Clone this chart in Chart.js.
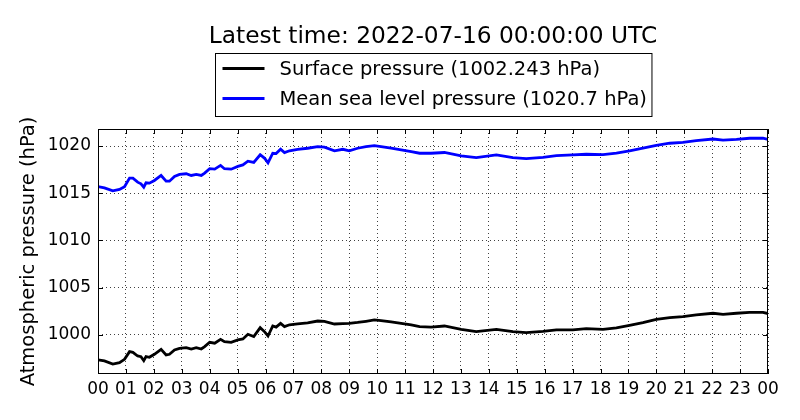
<!DOCTYPE html>
<html>
<head>
<meta charset="utf-8">
<title>Atmospheric pressure</title>
<script src="https://cdn.jsdelivr.net/npm/chart.js@4/dist/chart.umd.min.js"></script>
<style>
    html, body { margin: 0; padding: 0; background: #ffffff; }
    #wrap { width: 800px; height: 420px; }
</style>
</head>
<body>
<div id="wrap"><canvas id="pressureChart" width="800" height="420"></canvas></div>
<script>
// ========================================
// Surface / MSL pressure, last 24 h
// ========================================

const chartTitle = 'Latest time: 2022-07-16 00:00:00 UTC';

// sample times, hours since 00 UTC
const hours = [
    0, 0.23, 0.53, 0.77, 0.95, 1.13, 1.25, 1.42, 1.54, 1.64,
    1.72, 1.84, 2.02, 2.26, 2.44, 2.56, 2.74, 2.92, 3.16, 3.34,
    3.52, 3.70, 3.82, 4.00, 4.18, 4.39, 4.53, 4.77, 5.01, 5.19,
    5.37, 5.58, 5.81, 5.97, 6.09, 6.26, 6.38, 6.54, 6.68, 6.86,
    7.15, 7.51, 7.87, 8.11, 8.47, 8.77, 9.00, 9.30, 9.60, 9.90,
    10.14, 10.50, 10.86, 11.22, 11.52, 11.93, 12.41, 13.01, 13.55, 14.27,
    14.86, 15.34, 15.94, 16.42, 17.01, 17.49, 18.09, 18.57, 19.04, 19.52,
    20.00, 20.48, 20.95, 21.43, 22.03, 22.39, 22.87, 23.34, 23.82, 24
];

// surface pressure (hPa)
const surfacePressure = [
    997.32, 997.21, 996.89, 997.03, 997.39, 998.20, 998.13, 997.74, 997.67, 997.24,
    997.67, 997.60, 997.92, 998.45, 997.85, 997.92, 998.38, 998.55, 998.63, 998.48,
    998.63, 998.48, 998.73, 999.19, 999.10, 999.51, 999.26, 999.19, 999.44, 999.55,
    1000.04, 999.80, 1000.74, 1000.30, 999.86, 1000.92, 1000.80, 1001.20, 1000.85, 1001.05,
    1001.15, 1001.25, 1001.45, 1001.40, 1001.13, 1001.18, 1001.20, 1001.30, 1001.42, 1001.56,
    1001.50, 1001.35, 1001.20, 1001.05, 1000.85, 1000.80, 1000.92, 1000.57, 1000.32, 1000.57,
    1000.32, 1000.22, 1000.35, 1000.50, 1000.50, 1000.64, 1000.57, 1000.71, 1000.99, 1001.27,
    1001.63, 1001.80, 1001.91, 1002.09, 1002.27, 1002.16, 1002.27, 1002.37, 1002.37, 1002.243
];

// mean sea level pressure (hPa)
const mslPressure = [
    1015.71, 1015.57, 1015.25, 1015.40, 1015.70, 1016.60, 1016.60, 1016.17, 1016.00, 1015.64,
    1016.10, 1016.07, 1016.35, 1016.88, 1016.28, 1016.28, 1016.78, 1016.99, 1017.06, 1016.88,
    1016.99, 1016.88, 1017.13, 1017.60, 1017.55, 1017.95, 1017.60, 1017.55, 1017.84, 1018.00,
    1018.40, 1018.26, 1019.08, 1018.70, 1018.23, 1019.24, 1019.20, 1019.66, 1019.30, 1019.50,
    1019.66, 1019.77, 1019.94, 1019.88, 1019.50, 1019.66, 1019.50, 1019.77, 1019.94, 1020.04,
    1019.94, 1019.77, 1019.59, 1019.41, 1019.24, 1019.24, 1019.32, 1018.95, 1018.77, 1019.06,
    1018.77, 1018.66, 1018.81, 1018.98, 1019.06, 1019.13, 1019.10, 1019.24, 1019.48, 1019.77,
    1020.08, 1020.30, 1020.40, 1020.57, 1020.75, 1020.64, 1020.71, 1020.83, 1020.83, 1020.70
];

const hourLabels = ['00', '01', '02', '03', '04', '05', '06', '07', '08', '09', '10', '11',
    '12', '13', '14', '15', '16', '17', '18', '19', '20', '21', '22', '23', '00'];
const pressureTicks = [1000, 1005, 1010, 1015, 1020];

const seriesLabels = ['Surface pressure (1002.243 hPa)', 'Mean sea level pressure (1020.7 hPa)'];
const seriesColors = ['#000000', '#0000ff'];

const FONT = 'DejaVu Sans';

function toPoints(values) {
    return values.map((v, i) => ({ x: hours[i], y: v }));
}

// title, boxed legend, frame and inward ticks (matplotlib look)
const decorPlugin = {
    id: 'decor',
    afterDraw(chart) {
        const ctx = chart.ctx;
        const area = chart.chartArea;
        const xs = chart.scales.x;
        const ys = chart.scales.y;
        const midX = (area.left + area.right) / 2;

        ctx.save();

        // title
        ctx.fillStyle = '#000';
        ctx.font = '23.3px "' + FONT + '"';
        ctx.textAlign = 'center';
        ctx.textBaseline = 'alphabetic';
        ctx.fillText(chartTitle, midX, 42.5);

        // legend box
        ctx.font = '19.5px "' + FONT + '"';
        const textW = Math.max(...seriesLabels.map(t => ctx.measureText(t).width));
        const boxW = 64 + textW + 5;
        const boxL = Math.round(midX - boxW / 2) + 0.5;
        const boxT = 53.5;
        const boxH = 63;
        ctx.lineWidth = 1;
        ctx.strokeStyle = '#000';
        ctx.strokeRect(boxL, boxT, boxW, boxH);

        ctx.textAlign = 'left';
        ctx.textBaseline = 'middle';
        seriesLabels.forEach((label, i) => {
            const y = 68.5 + i * 30;
            ctx.lineWidth = 2.8;
            ctx.strokeStyle = seriesColors[i];
            ctx.beginPath();
            ctx.moveTo(boxL + 7, y);
            ctx.lineTo(boxL + 49, y);
            ctx.stroke();
            ctx.fillStyle = '#000';
            ctx.fillText(label, boxL + 64, y + 1);
        });

        // frame
        ctx.lineWidth = 1;
        ctx.strokeStyle = '#000';
        ctx.strokeRect(area.left + 0.5, area.top + 0.5, area.right - area.left - 1, area.bottom - area.top - 1);

        // inward ticks on all four sides
        const tl = 5;
        ctx.beginPath();
        hourLabels.forEach((_, i) => {
            const px = Math.round(xs.getPixelForValue(i)) + 0.5;
            ctx.moveTo(px, area.bottom);
            ctx.lineTo(px, area.bottom - tl);
            ctx.moveTo(px, area.top);
            ctx.lineTo(px, area.top + tl);
        });
        pressureTicks.forEach(v => {
            const py = Math.round(ys.getPixelForValue(v)) + 0.5;
            ctx.moveTo(area.left, py);
            ctx.lineTo(area.left + tl, py);
            ctx.moveTo(area.right, py);
            ctx.lineTo(area.right - tl, py);
        });
        ctx.stroke();

        ctx.restore();
    }
};

document.addEventListener('DOMContentLoaded', function () {
    const canvas = document.getElementById('pressureChart');

    new Chart(canvas, {
        type: 'line',
        data: {
            datasets: [
                {
                    label: seriesLabels[0],
                    data: toPoints(surfacePressure),
                    borderColor: seriesColors[0],
                    borderWidth: 2.8,
                    pointRadius: 0,
                    tension: 0,
                    fill: false
                },
                {
                    label: seriesLabels[1],
                    data: toPoints(mslPressure),
                    borderColor: seriesColors[1],
                    borderWidth: 2.8,
                    pointRadius: 0,
                    tension: 0,
                    fill: false
                }
            ]
        },
        options: {
            responsive: false,
            animation: false,
            devicePixelRatio: 1,
            layout: {
                padding: { top: 129, right: 32, bottom: 0, left: 0 }
            },
            plugins: {
                legend: { display: false },
                title: { display: false },
                tooltip: { enabled: false }
            },
            scales: {
                x: {
                    type: 'linear',
                    min: 0,
                    max: 24,
                    afterBuildTicks(scale) {
                        scale.ticks = hourLabels.map((_, i) => ({ value: i }));
                    },
                    afterFit(scale) {
                        scale.height = 46;
                    },
                    grid: {
                        color: 'rgba(0, 0, 0, 0.75)',
                        lineWidth: 1,
                        drawTicks: false
                    },
                    border: { display: false, dash: [1, 3] },
                    ticks: {
                        autoSkip: false,
                        maxRotation: 0,
                        padding: 5,
                        color: '#000',
                        font: { family: FONT, size: 17 },
                        callback: function (value, index) {
                            return hourLabels[index];
                        }
                    }
                },
                y: {
                    min: 995.83,
                    max: 1021.81,
                    afterBuildTicks(scale) {
                        scale.ticks = pressureTicks.map(v => ({ value: v }));
                    },
                    afterFit(scale) {
                        scale.width = 98;
                    },
                    grid: {
                        color: 'rgba(0, 0, 0, 0.75)',
                        lineWidth: 1,
                        drawTicks: false
                    },
                    border: { display: false, dash: [1, 3] },
                    ticks: {
                        padding: 7,
                        color: '#000',
                        font: { family: FONT, size: 17 },
                        callback: function (value) {
                            return String(value);
                        }
                    },
                    title: {
                        display: true,
                        text: 'Atmospheric pressure (hPa)',
                        color: '#000',
                        font: { family: FONT, size: 19.5 },
                        padding: { top: 17, bottom: 0 }
                    }
                }
            }
        },
        plugins: [decorPlugin]
    });
});
</script>
</body>
</html>
